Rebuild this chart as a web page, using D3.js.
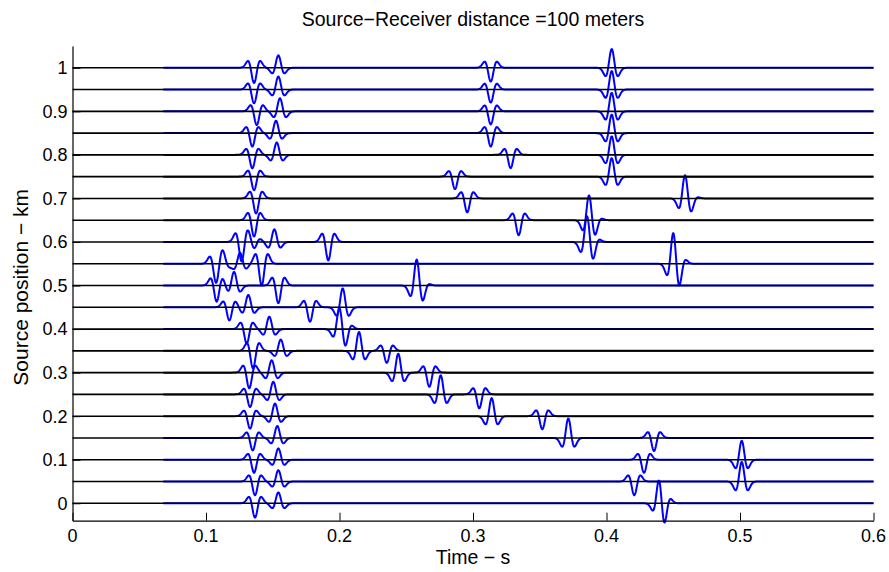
<!DOCTYPE html>
<html><head><meta charset="utf-8">
<script src="https://cdn.jsdelivr.net/npm/d3@7"></script>
<style>
body{margin:0;background:#fff}
svg{display:block}
text{font-family:"Liberation Sans",Arial,Helvetica,sans-serif;fill:#000}
</style>
</head><body>
<svg id="chart" width="889" height="572"></svg>
<script>
// ---- data ----
const titleText = "Source\u2212Receiver distance =100 meters";
const xLabelText = "Time \u2212 s";
const yLabelText = "Source position \u2212 km";
const sourcePositions = [0,0.05,0.1,0.15,0.2,0.25,0.3,0.35,0.4,0.45,0.5,0.55,0.6,0.65,0.7,0.75,0.8,0.85,0.9,0.95,1.0];
const xTickValues = [0,0.1,0.2,0.3,0.4,0.5,0.6];
const xTickLabels = ["0","0.1","0.2","0.3","0.4","0.5","0.6"];
const yTickValues = [0,0.1,0.2,0.3,0.4,0.5,0.6,0.7,0.8,0.9,1];
const yTickLabels = ["0","0.1","0.2","0.3","0.4","0.5","0.6","0.7","0.8","0.9","1"];
const timeRange = [0, 0.6];
const traceStart = 0.068;           // blue trace begins here (s)
const traceUnit = 0.05;             // amplitude 1 = one trace spacing (km)
// pulse shape, one sample per ms from its centre outwards (symmetric)
const pulseShape = [1, 0.798, 0.323, -0.149, -0.410, -0.431, -0.317, -0.182, -0.085, -0.033, -0.011, -0.003, -0.001, 0];
// arrivals per trace: [time (s), amplitude]
const arrivals = [
  [[0.1367,-0.66],[0.1542,0.50],[0.4395,0.85],[0.4430,-0.57]],
  [[0.1367,-0.63],[0.1542,0.52],[0.4208,-0.63],[0.5013,0.90]],
  [[0.1360,-0.60],[0.1542,0.52],[0.4281,-0.60],[0.5013,0.87]],
  [[0.1350,-0.57],[0.1534,0.55],[0.3714,0.90],[0.4356,-0.60]],
  [[0.1330,-0.57],[0.1517,0.58],[0.3140,0.83],[0.3519,-0.60]],
  [[0.1330,-0.58],[0.1504,0.58],[0.2758,0.88],[0.3047,-0.64]],
  [[0.1324,-0.72],[0.1492,0.57],[0.2440,0.87],[0.2673,-0.65]],
  [[0.1352,-0.80],[0.1560,0.52],[0.2146,0.87],[0.2354,-0.55]],
  [[0.1305,-0.66],[0.1474,0.57],[0.1999,0.80],[0.2044,-0.40]],
  [[0.1175,-0.60],[0.1317,0.57],[0.1779,-0.66],[0.2024,0.87]],
  [[0.1080,-0.74],[0.1210,0.63],[0.1542,-0.81],[0.2578,1.10],[0.2623,-0.20]],
  [[0.1075,-0.75],[0.1127,0.30],[0.1255,0.50],[0.1417,-1.00],[0.4500,1.20],[0.4545,-0.46]],
  [[0.1267,-0.90],[0.1360,-0.30],[0.1512,0.58],[0.1916,-0.85],[0.3854,1.05],[0.3899,-0.30]],
  [[0.1360,-0.75],[0.3342,-0.69],[0.3869,1.05],[0.3915,-0.20]],
  [[0.1375,-0.69],[0.2957,-0.64],[0.4588,1.00],[0.4635,-0.15]],
  [[0.1360,-0.62],[0.2865,-0.57],[0.4039,0.85]],
  [[0.1347,-0.62],[0.1530,0.57],[0.3282,-0.61],[0.4039,0.85]],
  [[0.1347,-0.62],[0.1524,0.57],[0.3133,-0.62],[0.4039,0.85]],
  [[0.1380,-0.63],[0.1554,0.60],[0.3133,-0.60],[0.4039,0.85]],
  [[0.1360,-0.63],[0.1542,0.60],[0.3133,-0.60],[0.4039,0.85]],
  [[0.1360,-0.70],[0.1542,0.57],[0.3133,-0.63],[0.4039,0.86]]
];

// ---- layout ----
const svg = d3.select("#chart");
const plotLeft = 72.5, plotRight = 873.5, plotTop = 46, plotBottom = 520.7;
const x = d3.scaleLinear().domain(timeRange).range([plotLeft, plotRight]);
const y = d3.scaleLinear().domain([-0.04, 1.05]).range([plotBottom, plotTop]);

// pulse evaluation (Catmull-Rom through the sampled shape)
function pulseAt(dtSec) {
  const ms = Math.abs(dtSec) * 1000;
  const n = pulseShape.length;
  if (ms >= n - 1) return 0;
  const i = Math.floor(ms), f = ms - i;
  const s = k => (k < 0 ? pulseShape[-k] : (k < n ? pulseShape[k] : 0));
  const p0 = s(i - 1), p1 = s(i), p2 = s(i + 1), p3 = s(i + 2);
  return 0.5 * (2 * p1 + (-p0 + p2) * f + (2 * p0 - 5 * p1 + 4 * p2 - p3) * f * f + (-p0 + 3 * p1 - 3 * p2 + p3) * f * f * f);
}

const line = d3.line().x(d => x(d[0])).y(d => y(d[1]));
const step = 0.00025;
const gTraces = svg.append("g");
sourcePositions.forEach((pos, k) => {
  const ev = arrivals[k];
  const pts = [];
  for (let t = traceStart; t <= timeRange[1] + 1e-9; t += step) {
    let v = 0;
    for (const [t0, a] of ev) v += a * pulseAt(t - t0);
    pts.push([t, pos + traceUnit * v]);
  }
  gTraces.append("path").attr("d", line(pts))
    .attr("fill", "none").attr("stroke", "#0000ff").attr("stroke-width", 2)
    .attr("stroke-linejoin", "round");
});

// zero lines
svg.append("g").selectAll("line").data(sourcePositions).join("line")
  .attr("x1", x(timeRange[0])).attr("x2", x(timeRange[1]))
  .attr("y1", d => y(d)).attr("y2", d => y(d))
  .attr("stroke", "#000").attr("stroke-width", 1.6);

// axes (left and bottom only, ticks inward); labels drawn separately
const xAxis = d3.axisBottom(x).tickValues(xTickValues).tickFormat(() => "")
  .tickSizeInner(-8).tickSizeOuter(0);
const gx = svg.append("g").attr("transform", `translate(0,${plotBottom})`).call(xAxis);
const yAxis = d3.axisLeft(y).tickValues(yTickValues).tickFormat(() => "")
  .tickSizeInner(-8).tickSizeOuter(0);
const gy = svg.append("g").attr("transform", `translate(${plotLeft},0)`).call(yAxis);
[gx, gy].forEach(g => {
  g.select(".domain").attr("stroke", "#000").attr("stroke-width", 1.2);
  g.selectAll(".tick line").attr("stroke", "#000").attr("stroke-width", 1);
  g.selectAll(".tick text").remove();
});

svg.append("g").selectAll("text").data(xTickValues).join("text")
  .attr("x", d => x(d)).attr("y", 542)
  .attr("text-anchor", "middle").attr("font-size", 18)
  .text((d, i) => xTickLabels[i]);
svg.append("g").selectAll("text").data(yTickValues).join("text")
  .attr("x", plotLeft - 5).attr("y", d => y(d) + 6.4)
  .attr("text-anchor", "end").attr("font-size", 18)
  .text((d, i) => yTickLabels[i]);

svg.append("text").attr("x", (plotLeft + plotRight) / 2).attr("y", 26)
  .attr("text-anchor", "middle").attr("font-size", 19.5).text(titleText);
svg.append("text").attr("x", (plotLeft + plotRight) / 2).attr("y", 564)
  .attr("text-anchor", "middle").attr("font-size", 19.5).text(xLabelText);
svg.append("text").attr("transform", `translate(28,${(plotTop + plotBottom) / 2 + 4}) rotate(-90)`)
  .attr("text-anchor", "middle").attr("font-size", 21).text(yLabelText);
</script>
</body></html>
